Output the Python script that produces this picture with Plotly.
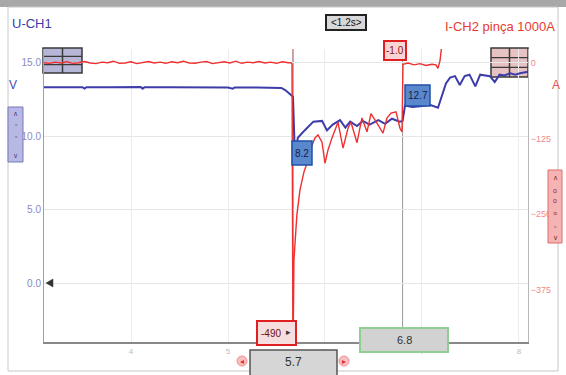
import plotly.graph_objects as go

# ---------------- data ----------------
# U-CH1 (V)
t_ch1 = [3.10, 3.30, 3.50, 3.52, 3.54, 3.80, 4.10, 4.12, 4.14, 4.40, 4.70, 5.00, 5.05, 5.07,
         5.30, 5.55, 5.59, 5.64, 5.67, 5.69, 5.72, 5.79, 5.88, 5.97, 6.02, 6.08, 6.155, 6.21,
         6.26, 6.33, 6.39, 6.46, 6.55, 6.62, 6.69, 6.77, 6.80, 6.825, 6.90, 6.98, 7.08, 7.165,
         7.206, 7.247, 7.29, 7.34, 7.39, 7.44, 7.49, 7.55, 7.60, 7.65, 7.70, 7.75, 7.80, 7.85,
         7.91, 7.96, 8.01, 8.093]
u_ch1 = [13.35, 13.36, 13.35, 13.25, 13.35, 13.35, 13.36, 13.25, 13.35, 13.35, 13.33, 13.33, 13.25, 13.33,
         13.32, 13.3, 13.15, 12.9, 12.7, 8.6, 9.9, 10.4, 11.0, 11.05, 10.4, 10.8, 11.1, 10.6,
         11.0, 10.7, 11.05, 10.8, 11.1, 10.85, 11.2, 11.0, 11.05, 12.1, 12.0, 12.05, 12.15, 11.95,
         12.8, 13.6, 14.0, 14.1, 13.5, 14.1, 14.2, 13.4, 14.2, 14.15, 14.1, 13.7, 14.2, 14.15,
         14.3, 14.2, 14.3, 14.4]

# I-CH2 (A)
t_ch2 = [3.10, 3.16, 3.22, 3.28, 3.34, 3.40, 3.46, 3.52, 3.58, 3.64, 3.70, 3.76, 3.82, 3.88,
         3.94, 4.00, 4.06, 4.12, 4.18, 4.24, 4.30, 4.36, 4.42, 4.48, 4.54, 4.60, 4.66, 4.72,
         4.78, 4.84, 4.90, 4.96, 5.02, 5.08, 5.14, 5.20, 5.26, 5.32, 5.38, 5.44, 5.50, 5.56,
         5.62, 5.65, 5.66, 5.67, 5.68, 5.71, 5.742, 5.784, 5.825, 5.866, 5.897, 5.928, 5.969,
         6.00, 6.031, 6.072, 6.134, 6.186, 6.237, 6.268, 6.33, 6.381, 6.433, 6.474, 6.515,
         6.546, 6.598, 6.639, 6.68, 6.732, 6.773, 6.794, 6.804, 6.856, 6.918, 6.979, 7.041,
         7.103, 7.144, 7.165, 7.186, 7.196, 7.216]
i_ch2 = [0.5, -0.5, 1.5, 0, 2, -0.5, 0.5, 2.5, 0, -1, 1.5, 0.5, 3, -0.5,
         0, 2, -1, 0.5, 2.5, 0, 1.5, -0.5, 2, 0.5, 3, 0, -0.5, 1.5,
         2.5, -1, 0.5, 2, 0, 3, -0.5, 1.5, 0.5, 2.5, 0, 1.5, -0.5, 2,
         0.5, 0.5, -2, -490, -326, -252, -210, -180, -161, -136, -124, -119, -131,
         -166, -144, -124, -98, -141, -108, -98, -132, -91, -114, -84, -94,
         -103, -116, -91, -83, -81, -108, -114, -2, 0, -3, -1, -4,
         -2, -3, -9, 4, 18, 45]

x_ticks = [4, 5, 6, 7, 8]
v_ticks = [0, 5, 10, 15]
a_ticks = [0, -125, -250, -375]

cursor_t = [5.67, 6.80]
cursor_labels = ["5.7", "6.8"]
cursor_u = ["8.2", "12.7"]
cursor_i = ["-490", "-1.0"]
delta_label = "<1.2s>"

# ---------------- layout helpers ----------------
W, H = 566, 375
L, R, T, B = 44, 528, 49, 342


def px(x):
    return (x - L) / (R - L)


def py(y):
    return (B - y) / (B - T)


FONT = "Liberation Sans Narrow, Liberation Sans, Arial, sans-serif"
shapes = []
annots = []


def rect(x0, y0, x1, y1, fill, line, lw=1, layer="above"):
    shapes.append(dict(type="rect", xref="paper", yref="paper", x0=px(x0), x1=px(x1),
                       y0=py(y1), y1=py(y0), fillcolor=fill,
                       line=dict(color=line, width=lw), layer=layer))


def hline(x0, x1, y, color, lw=1, layer="above"):
    shapes.append(dict(type="line", xref="paper", yref="paper", x0=px(x0), x1=px(x1),
                       y0=py(y), y1=py(y), line=dict(color=color, width=lw), layer=layer))


def vline(x, y0, y1, color, lw=1, layer="above"):
    shapes.append(dict(type="line", xref="paper", yref="paper", x0=px(x), x1=px(x),
                       y0=py(y0), y1=py(y1), line=dict(color=color, width=lw), layer=layer))


def text(x, y, s, color, size, anchor="center", family=FONT):
    annots.append(dict(xref="paper", yref="paper", x=px(x), y=py(y), text=s, showarrow=False,
                       xanchor=anchor, yanchor="middle",
                       font=dict(family=family, size=size, color=color)))


# outer frame
rect(0, 0, 566, 7, "#a8a8a8", "#a8a8a8", 0)
rect(8, 7, 558, 371, "rgba(0,0,0,0)", "#c8c8c8", 1)

# channel titles / units
text(10, 23, "U-CH1", "#3c3ca8", 13, "left")
text(557, 27, "I-CH2 pinça 1000A", "#e83a30", 13, "right")
text(13, 85, "V", "#4a4ab0", 12)
text(556, 85, "A", "#ec5050", 12)

# delta box
rect(326, 15, 366, 30, "#d8d8d8", "#222222", 2)
text(346, 22.5, delta_label, "#111111", 10)

# trigger/reference boxes (below traces)
for (x0, x1, y0, y1, fill) in [(43, 82, 48, 73, "#b6b6d6"), (491, 528, 48, 77, "#e6c2c2")]:
    rect(x0, y0, x1, y1, fill, "#3a3a3a", 1.5, "below")
    vline((x0 + x1) / 2, y0, y1, "#3a3a3a", 1.5, "below")
    hline(x0, x1, y0 + (y1 - y0) / 3, "#3a3a3a", 1.2, "below")
    hline(x0, x1, y0 + 2 * (y1 - y0) / 3, "#3a3a3a", 1.2, "below")

# side control bars
rect(8, 107, 23, 162, "#b8b8e4", "#7878b8", 1)
for yy, s in [(113, "∧"), (124, "▫"), (136, "▫"), (155, "∨")]:
    text(15.5, yy, s, "#45457a", 7)
rect(548, 170, 562, 243, "#f4b4b4", "#e06868", 1)
for yy, s in [(177, "∧"), (190, "o"), (200, "o"), (213, "≡"), (226, "▫"), (237, "∨")]:
    text(555, yy, s, "#8a2a2a", 7)

# zero marker triangle
shapes.append(dict(type="path", xref="paper", yref="paper",
                   path="M %f,%f L %f,%f L %f,%f Z" % (px(46), py(283), px(53), py(279), px(53), py(287)),
                   fillcolor="#333333", line=dict(color="#333333", width=0.5)))

# cursor lines (data x)
shapes.append(dict(type="line", xref="x", yref="paper", x0=cursor_t[0], x1=cursor_t[0], y0=py(321), y1=1,
                   line=dict(color="#9a4a4a", width=1), layer="below"))
shapes.append(dict(type="line", xref="x", yref="paper", x0=cursor_t[1], x1=cursor_t[1], y0=py(328), y1=1,
                   line=dict(color="#9a9a9a", width=1), layer="below"))

# cursor readouts
rect(384, 41, 406, 60, "#f8d4d4", "#e02020", 2)
text(395, 50.5, cursor_i[1], "#8a1010", 10)
rect(292, 141, 312, 165, "#5a88cc", "#2050a8", 1.5)
text(302, 153, cursor_u[0], "#14204a", 10)
rect(405, 85, 430, 106, "#5a88cc", "#2050a8", 1.5)
text(417.5, 95.5, cursor_u[1], "#14204a", 10)
rect(257, 321, 296, 345, "#f6dede", "#e02020", 2)
text(271, 333, cursor_i[0], "#6a1010", 10)
text(288, 332, "▸", "#333333", 9)

# bottom cursor time boxes
rect(250, 350, 337, 376, "#d6d6d6", "#555555", 1.5)
text(293.5, 362, cursor_labels[0], "#333333", 12)
rect(360, 328, 448, 352, "#d2d2d2", "#8fd08f", 2)
text(404, 340, cursor_labels[1], "#333333", 11)
for cx, s in [(242, "◂"), (344, "▸")]:
    shapes.append(dict(type="circle", xref="paper", yref="paper", x0=px(cx - 5), x1=px(cx + 5),
                       y0=py(366), y1=py(356), fillcolor="#f6c0c0", line=dict(color="#f09090", width=1)))
    text(cx, 361, s, "#e03030", 8)

fig = go.Figure()
fig.add_trace(go.Scatter(x=t_ch1, y=u_ch1, mode="lines", line=dict(color="#3c3caa", width=2),
                         yaxis="y", name="U-CH1", hoverinfo="skip"))
fig.add_trace(go.Scatter(x=t_ch2, y=i_ch2, mode="lines", line=dict(color="#ee3030", width=1.4),
                         yaxis="y2", name="I-CH2", hoverinfo="skip"))

fig.update_layout(
    width=W, height=H,
    margin=dict(l=L, r=W - R, t=T, b=H - B, autoexpand=False),
    paper_bgcolor="white", plot_bgcolor="white",
    showlegend=False,
    font=dict(family=FONT),
    xaxis=dict(range=[3.103, 8.093], tickvals=x_ticks, ticktext=[str(v) for v in x_ticks],
               showgrid=True, gridcolor="#ececec", zeroline=False,
               showline=True, linecolor="#888888", linewidth=2, ticks="",
               tickfont=dict(size=8, color="#bdbdbd"), automargin=False),
    yaxis=dict(range=[-4.02, 15.95], tickvals=v_ticks, tickformat=".1f",
               showgrid=True, gridcolor="#e6e6e6", zeroline=False,
               showline=True, linecolor="#a0a0a0", linewidth=1, ticks="",
               tickfont=dict(size=10, color="#8a8ac0"), automargin=False),
    yaxis2=dict(range=[-462, 23.2], tickvals=a_ticks, overlaying="y", side="right",
                showgrid=False, zeroline=False, showline=True, linecolor="#b8b8b8", linewidth=1,
                ticks="", tickfont=dict(size=9, color="#f08a8a"), automargin=False),
    shapes=shapes,
    annotations=annots,
)

fig.write_html(
    "out.html",
    config={"displayModeBar": False},
    post_script="document.body.style.margin='0';document.body.style.overflow='hidden';",
)
